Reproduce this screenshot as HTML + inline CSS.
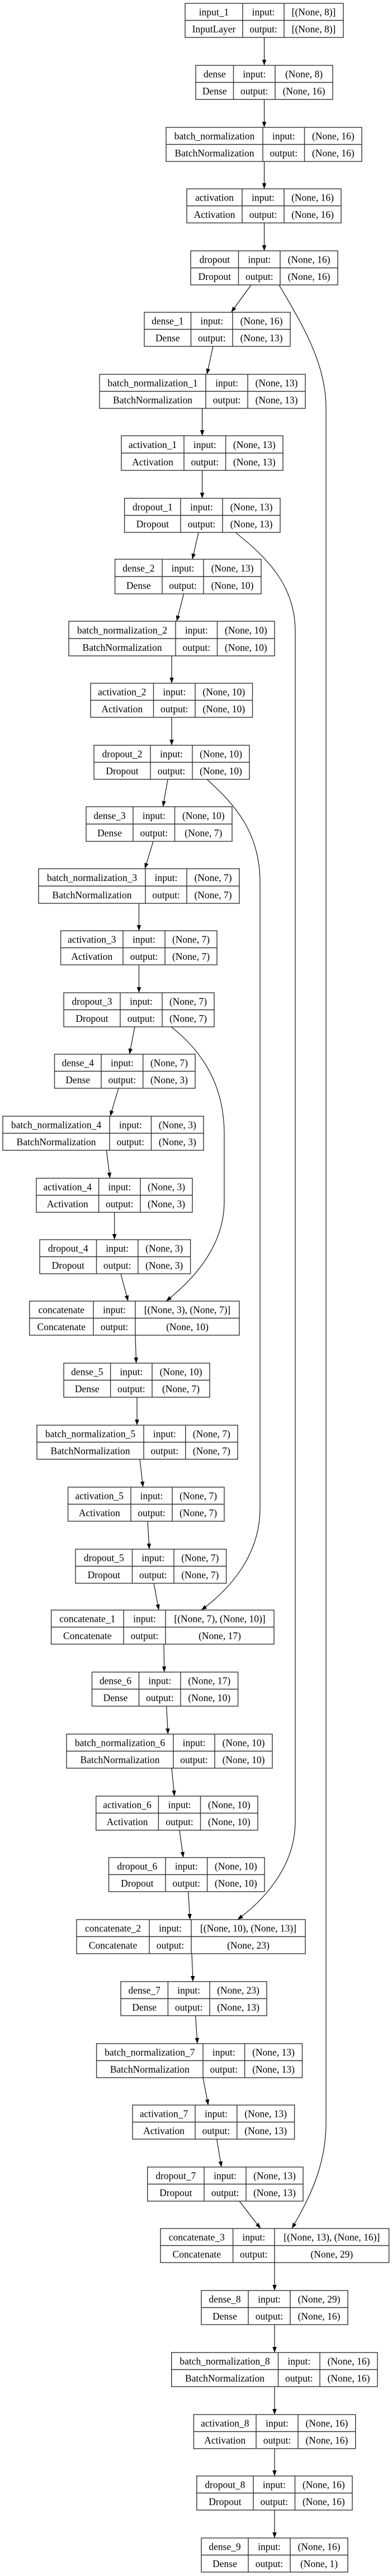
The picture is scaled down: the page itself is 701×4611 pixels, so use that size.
<!DOCTYPE html>
<html><head><meta charset="utf-8"><style>
html,body{margin:0;padding:0;background:#fff;}
svg{display:block;}
.b rect{fill:#fff;stroke:#333;stroke-width:1.4;}
.b line{stroke:#333;stroke-width:1.4;}
text{font-family:"Liberation Serif",serif;font-size:17.5px;fill:#000;text-anchor:middle;}
.e{stroke:#000;stroke-width:1.1;fill:none;}
</style></head><body>
<svg width="701" height="4611" viewBox="0 0 701 4611" xmlns="http://www.w3.org/2000/svg">
<defs><marker id="a" markerUnits="userSpaceOnUse" markerWidth="11" markerHeight="8" refX="10" refY="3.75" orient="auto"><path d="M0,0 L10,3.75 L0,7.5 z" fill="#000"/></marker></defs>

<!-- skip connections -->
<path class="e" marker-end="url(#a)" d="M499,510 C540,580 583,650 583,730 L583,3800 C583,3880 550,3940 522,3989"/>
<path class="e" marker-end="url(#a)" d="M421,953 C480,1000 528,1050 528,1130 L528,3260 C528,3335 480,3395 424.7,3436"/>
<path class="e" marker-end="url(#a)" d="M370,1395 C420,1440 465,1490 465,1580 L465,2700 C465,2785 410,2845 360,2882"/>
<path class="e" marker-end="url(#a)" d="M306,1838 C360,1880 401,1940 401,2030 L401,2150 C401,2235 340,2295 297,2329"/>

<!-- main edges -->
<g class="e" marker-end="url(#a)">
<line class="e" marker-end="url(#a)" x1="472.5" y1="67" x2="472.5" y2="117"/>
<line class="e" marker-end="url(#a)" x1="472.5" y1="178" x2="472.5" y2="228"/>
<line class="e" marker-end="url(#a)" x1="472.5" y1="289" x2="472.5" y2="338"/>
<line class="e" marker-end="url(#a)" x1="472.5" y1="399" x2="472.5" y2="449"/>
<line class="e" marker-end="url(#a)" x1="449" y1="510" x2="413.5" y2="559"/>
<line class="e" marker-end="url(#a)" x1="381" y1="620" x2="370" y2="670"/>
<line class="e" marker-end="url(#a)" x1="361.6" y1="731" x2="361.6" y2="780"/>
<line class="e" marker-end="url(#a)" x1="361.6" y1="842" x2="361.6" y2="892"/>
<line class="e" marker-end="url(#a)" x1="355" y1="953" x2="344" y2="1001"/>
<line class="e" marker-end="url(#a)" x1="328.6" y1="1063" x2="316" y2="1112"/>
<line class="e" marker-end="url(#a)" x1="307" y1="1174" x2="307" y2="1223"/>
<line class="e" marker-end="url(#a)" x1="307" y1="1284" x2="307" y2="1334"/>
<line class="e" marker-end="url(#a)" x1="300" y1="1395" x2="291.5" y2="1444"/>
<line class="e" marker-end="url(#a)" x1="274" y1="1506" x2="259" y2="1555"/>
<line class="e" marker-end="url(#a)" x1="248.5" y1="1617" x2="248.5" y2="1666"/>
<line class="e" marker-end="url(#a)" x1="248.5" y1="1727" x2="248.5" y2="1777"/>
<line class="e" marker-end="url(#a)" x1="241" y1="1838" x2="231.5" y2="1887"/>
<line class="e" marker-end="url(#a)" x1="212" y1="1948" x2="197" y2="1998"/>
<line class="e" marker-end="url(#a)" x1="190.4" y1="2059" x2="196.7" y2="2109"/>
<line class="e" marker-end="url(#a)" x1="204.7" y1="2170" x2="204.7" y2="2219"/>
<line class="e" marker-end="url(#a)" x1="216" y1="2280" x2="229" y2="2329"/>
<line class="e" marker-end="url(#a)" x1="242" y1="2390" x2="243.6" y2="2440"/>
<line class="e" marker-end="url(#a)" x1="245" y1="2501" x2="245" y2="2551"/>
<line class="e" marker-end="url(#a)" x1="250" y1="2612" x2="255.7" y2="2662"/>
<line class="e" marker-end="url(#a)" x1="264" y1="2723" x2="267" y2="2773"/>
<line class="e" marker-end="url(#a)" x1="275" y1="2834" x2="284" y2="2882"/>
<line class="e" marker-end="url(#a)" x1="293" y1="2943" x2="293.7" y2="2993"/>
<line class="e" marker-end="url(#a)" x1="297.7" y1="3054" x2="300.4" y2="3104"/>
<line class="e" marker-end="url(#a)" x1="307" y1="3165" x2="312" y2="3215"/>
<line class="e" marker-end="url(#a)" x1="321" y1="3276" x2="327.7" y2="3325"/>
<line class="e" marker-end="url(#a)" x1="336.6" y1="3386" x2="339.7" y2="3436"/>
<line class="e" marker-end="url(#a)" x1="343" y1="3497" x2="345" y2="3547"/>
<line class="e" marker-end="url(#a)" x1="349.6" y1="3608" x2="353" y2="3658"/>
<line class="e" marker-end="url(#a)" x1="363" y1="3719" x2="372.4" y2="3768"/>
<line class="e" marker-end="url(#a)" x1="387.6" y1="3829" x2="396" y2="3879"/>
<line class="e" marker-end="url(#a)" x1="428" y1="3940" x2="466" y2="3989"/>
<line class="e" marker-end="url(#a)" x1="491" y1="4050" x2="491" y2="4100"/>
<line class="e" marker-end="url(#a)" x1="491" y1="4161" x2="491" y2="4211"/>
<line class="e" marker-end="url(#a)" x1="491" y1="4272" x2="491" y2="4322"/>
<line class="e" marker-end="url(#a)" x1="491" y1="4383" x2="491" y2="4432"/>
<line class="e" marker-end="url(#a)" x1="491" y1="4493" x2="491" y2="4543"/>
</g>

<!-- nodes -->
<g class="b"><rect x="331" y="6" width="283" height="61"/><line x1="331" y1="36.5" x2="614" y2="36.5"/><line x1="434" y1="6" x2="434" y2="67"/><line x1="508" y1="6" x2="508" y2="67"/>
<text x="382.5" y="27.5">input_1</text><text x="471" y="27.5">input:</text><text x="561" y="27.5">[(None, 8)]</text>
<text x="382.5" y="58">InputLayer</text><text x="471" y="58">output:</text><text x="561" y="58">[(None, 8)]</text></g>

<g class="b"><rect x="350" y="117" width="245" height="61"/><line x1="350" y1="147.5" x2="595" y2="147.5"/><line x1="417.5" y1="117" x2="417.5" y2="178"/><line x1="492" y1="117" x2="492" y2="178"/>
<text x="383.8" y="138.5">dense</text><text x="454.8" y="138.5">input:</text><text x="543.5" y="138.5">(None, 8)</text>
<text x="383.8" y="169">Dense</text><text x="454.8" y="169">output:</text><text x="543.5" y="169">(None, 16)</text></g>

<g class="b"><rect x="297" y="228" width="350" height="61"/><line x1="297" y1="258.5" x2="647" y2="258.5"/><line x1="470" y1="228" x2="470" y2="289"/><line x1="544.5" y1="228" x2="544.5" y2="289"/>
<text x="383.5" y="249.5">batch_normalization</text><text x="507.3" y="249.5">input:</text><text x="595.8" y="249.5">(None, 16)</text>
<text x="383.5" y="280">BatchNormalization</text><text x="507.3" y="280">output:</text><text x="595.8" y="280">(None, 16)</text></g>

<g class="b"><rect x="334" y="338" width="276" height="61"/><line x1="334" y1="368.5" x2="610" y2="368.5"/><line x1="433" y1="338" x2="433" y2="399"/><line x1="508" y1="338" x2="508" y2="399"/>
<text x="383.5" y="359.5">activation</text><text x="470.5" y="359.5">input:</text><text x="559" y="359.5">(None, 16)</text>
<text x="383.5" y="390">Activation</text><text x="470.5" y="390">output:</text><text x="559" y="390">(None, 16)</text></g>

<g class="b"><rect x="341" y="449" width="263" height="61"/><line x1="341" y1="479.5" x2="604" y2="479.5"/><line x1="426.5" y1="449" x2="426.5" y2="510"/><line x1="501" y1="449" x2="501" y2="510"/>
<text x="383.8" y="470.5">dropout</text><text x="463.8" y="470.5">input:</text><text x="552.5" y="470.5">(None, 16)</text>
<text x="383.8" y="501">Dropout</text><text x="463.8" y="501">output:</text><text x="552.5" y="501">(None, 16)</text></g>

<g class="b"><rect x="258" y="559" width="261" height="61"/><line x1="258" y1="589.5" x2="519" y2="589.5"/><line x1="341.5" y1="559" x2="341.5" y2="620"/><line x1="416" y1="559" x2="416" y2="620"/>
<text x="299.8" y="580.5">dense_1</text><text x="378.8" y="580.5">input:</text><text x="467.5" y="580.5">(None, 16)</text>
<text x="299.8" y="611">Dense</text><text x="378.8" y="611">output:</text><text x="467.5" y="611">(None, 13)</text></g>

<g class="b"><rect x="178" y="670" width="368" height="61"/><line x1="178" y1="700.5" x2="546" y2="700.5"/><line x1="368" y1="670" x2="368" y2="731"/><line x1="443" y1="670" x2="443" y2="731"/>
<text x="273" y="691.5">batch_normalization_1</text><text x="405.5" y="691.5">input:</text><text x="494.5" y="691.5">(None, 13)</text>
<text x="273" y="722">BatchNormalization</text><text x="405.5" y="722">output:</text><text x="494.5" y="722">(None, 13)</text></g>

<g class="b"><rect x="217" y="780" width="289" height="62"/><line x1="217" y1="811" x2="506" y2="811"/><line x1="329" y1="780" x2="329" y2="842"/><line x1="403.6" y1="780" x2="403.6" y2="842"/>
<text x="273" y="802">activation_1</text><text x="366.3" y="802">input:</text><text x="454.8" y="802">(None, 13)</text>
<text x="273" y="833">Activation</text><text x="366.3" y="833">output:</text><text x="454.8" y="833">(None, 13)</text></g>

<g class="b"><rect x="222.6" y="892" width="278.4" height="61"/><line x1="222.6" y1="922.5" x2="501" y2="922.5"/><line x1="323" y1="892" x2="323" y2="953"/><line x1="398" y1="892" x2="398" y2="953"/>
<text x="272.8" y="913.5">dropout_1</text><text x="360.5" y="913.5">input:</text><text x="449.5" y="913.5">(None, 13)</text>
<text x="272.8" y="944">Dropout</text><text x="360.5" y="944">output:</text><text x="449.5" y="944">(None, 13)</text></g>

<g class="b"><rect x="205.6" y="1001" width="261.4" height="62"/><line x1="205.6" y1="1032" x2="467" y2="1032"/><line x1="290" y1="1001" x2="290" y2="1063"/><line x1="364" y1="1001" x2="364" y2="1063"/>
<text x="247.8" y="1023">dense_2</text><text x="327" y="1023">input:</text><text x="415.5" y="1023">(None, 13)</text>
<text x="247.8" y="1054">Dense</text><text x="327" y="1054">output:</text><text x="415.5" y="1054">(None, 10)</text></g>

<g class="b"><rect x="123" y="1112" width="368" height="62"/><line x1="123" y1="1143" x2="491" y2="1143"/><line x1="314" y1="1112" x2="314" y2="1174"/><line x1="388.5" y1="1112" x2="388.5" y2="1174"/>
<text x="218.5" y="1134">batch_normalization_2</text><text x="351.3" y="1134">input:</text><text x="439.8" y="1134">(None, 10)</text>
<text x="218.5" y="1165">BatchNormalization</text><text x="351.3" y="1165">output:</text><text x="439.8" y="1165">(None, 10)</text></g>

<g class="b"><rect x="162" y="1223" width="289.5" height="61"/><line x1="162" y1="1253.5" x2="451.5" y2="1253.5"/><line x1="274.5" y1="1223" x2="274.5" y2="1284"/><line x1="349" y1="1223" x2="349" y2="1284"/>
<text x="218.3" y="1244.5">activation_2</text><text x="311.8" y="1244.5">input:</text><text x="400.3" y="1244.5">(None, 10)</text>
<text x="218.3" y="1275">Activation</text><text x="311.8" y="1275">output:</text><text x="400.3" y="1275">(None, 10)</text></g>

<g class="b"><rect x="168" y="1334" width="278" height="61"/><line x1="168" y1="1364.5" x2="446" y2="1364.5"/><line x1="269" y1="1334" x2="269" y2="1395"/><line x1="344" y1="1334" x2="344" y2="1395"/>
<text x="218.5" y="1355.5">dropout_2</text><text x="306.5" y="1355.5">input:</text><text x="395" y="1355.5">(None, 10)</text>
<text x="218.5" y="1386">Dropout</text><text x="306.5" y="1386">output:</text><text x="395" y="1386">(None, 10)</text></g>

<g class="b"><rect x="154" y="1444" width="261" height="62"/><line x1="154" y1="1475" x2="415" y2="1475"/><line x1="238" y1="1444" x2="238" y2="1506"/><line x1="312.5" y1="1444" x2="312.5" y2="1506"/>
<text x="196" y="1466">dense_3</text><text x="275.3" y="1466">input:</text><text x="363.8" y="1466">(None, 10)</text>
<text x="196" y="1497">Dense</text><text x="275.3" y="1497">output:</text><text x="363.8" y="1497">(None, 7)</text></g>

<g class="b"><rect x="69" y="1555" width="359" height="62"/><line x1="69" y1="1586" x2="428" y2="1586"/><line x1="260" y1="1555" x2="260" y2="1617"/><line x1="334" y1="1555" x2="334" y2="1617"/>
<text x="164.5" y="1577">batch_normalization_3</text><text x="297" y="1577">input:</text><text x="381" y="1577">(None, 7)</text>
<text x="164.5" y="1608">BatchNormalization</text><text x="297" y="1608">output:</text><text x="381" y="1608">(None, 7)</text></g>

<g class="b"><rect x="108.6" y="1666" width="279.4" height="61"/><line x1="108.6" y1="1696.5" x2="388" y2="1696.5"/><line x1="220" y1="1666" x2="220" y2="1727"/><line x1="295" y1="1666" x2="295" y2="1727"/>
<text x="164.3" y="1687.5">activation_3</text><text x="257.5" y="1687.5">input:</text><text x="341.5" y="1687.5">(None, 7)</text>
<text x="164.3" y="1718">Activation</text><text x="257.5" y="1718">output:</text><text x="341.5" y="1718">(None, 7)</text></g>

<g class="b"><rect x="114" y="1777" width="269" height="61"/><line x1="114" y1="1807.5" x2="383" y2="1807.5"/><line x1="215" y1="1777" x2="215" y2="1838"/><line x1="290" y1="1777" x2="290" y2="1838"/>
<text x="164.5" y="1798.5">dropout_3</text><text x="252.5" y="1798.5">input:</text><text x="336.5" y="1798.5">(None, 7)</text>
<text x="164.5" y="1829">Dropout</text><text x="252.5" y="1829">output:</text><text x="336.5" y="1829">(None, 7)</text></g>

<g class="b"><rect x="97.5" y="1887" width="251.5" height="61"/><line x1="97.5" y1="1917.5" x2="349" y2="1917.5"/><line x1="181" y1="1887" x2="181" y2="1948"/><line x1="255.7" y1="1887" x2="255.7" y2="1948"/>
<text x="139.3" y="1908.5">dense_4</text><text x="218.4" y="1908.5">input:</text><text x="302.4" y="1908.5">(None, 7)</text>
<text x="139.3" y="1939">Dense</text><text x="218.4" y="1939">output:</text><text x="302.4" y="1939">(None, 3)</text></g>

<g class="b"><rect x="5" y="1998" width="359" height="61"/><line x1="5" y1="2028.5" x2="364" y2="2028.5"/><line x1="196" y1="1998" x2="196" y2="2059"/><line x1="270.5" y1="1998" x2="270.5" y2="2059"/>
<text x="100.5" y="2019.5">batch_normalization_4</text><text x="233.3" y="2019.5">input:</text><text x="317.3" y="2019.5">(None, 3)</text>
<text x="100.5" y="2050">BatchNormalization</text><text x="233.3" y="2050">output:</text><text x="317.3" y="2050">(None, 3)</text></g>

<g class="b"><rect x="65" y="2109" width="279" height="61"/><line x1="65" y1="2139.5" x2="344" y2="2139.5"/><line x1="176.6" y1="2109" x2="176.6" y2="2170"/><line x1="251" y1="2109" x2="251" y2="2170"/>
<text x="120.8" y="2130.5">activation_4</text><text x="213.8" y="2130.5">input:</text><text x="297.5" y="2130.5">(None, 3)</text>
<text x="120.8" y="2161">Activation</text><text x="213.8" y="2161">output:</text><text x="297.5" y="2161">(None, 3)</text></g>

<g class="b"><rect x="71" y="2219" width="269.6" height="61"/><line x1="71" y1="2249.5" x2="340.6" y2="2249.5"/><line x1="172.5" y1="2219" x2="172.5" y2="2280"/><line x1="246.8" y1="2219" x2="246.8" y2="2280"/>
<text x="121.8" y="2240.5">dropout_4</text><text x="209.7" y="2240.5">input:</text><text x="293.7" y="2240.5">(None, 3)</text>
<text x="121.8" y="2271">Dropout</text><text x="209.7" y="2271">output:</text><text x="293.7" y="2271">(None, 3)</text></g>

<g class="b"><rect x="52.7" y="2329" width="375.3" height="61"/><line x1="52.7" y1="2359.5" x2="428" y2="2359.5"/><line x1="167" y1="2329" x2="167" y2="2390"/><line x1="242" y1="2329" x2="242" y2="2390"/>
<text x="109.8" y="2350.5">concatenate</text><text x="204.5" y="2350.5">input:</text><text x="335" y="2350.5">[(None, 3), (None, 7)]</text>
<text x="109.8" y="2381">Concatenate</text><text x="204.5" y="2381">output:</text><text x="335" y="2381">(None, 10)</text></g>

<g class="b"><rect x="114" y="2440" width="261" height="61"/><line x1="114" y1="2470.5" x2="375" y2="2470.5"/><line x1="197.6" y1="2440" x2="197.6" y2="2501"/><line x1="272" y1="2440" x2="272" y2="2501"/>
<text x="155.8" y="2461.5">dense_5</text><text x="234.8" y="2461.5">input:</text><text x="323.5" y="2461.5">(None, 10)</text>
<text x="155.8" y="2492">Dense</text><text x="234.8" y="2492">output:</text><text x="323.5" y="2492">(None, 7)</text></g>

<g class="b"><rect x="66" y="2551" width="359" height="61"/><line x1="66" y1="2581.5" x2="425" y2="2581.5"/><line x1="257" y1="2551" x2="257" y2="2612"/><line x1="331.7" y1="2551" x2="331.7" y2="2612"/>
<text x="161.5" y="2572.5">batch_normalization_5</text><text x="294.3" y="2572.5">input:</text><text x="378.3" y="2572.5">(None, 7)</text>
<text x="161.5" y="2603">BatchNormalization</text><text x="294.3" y="2603">output:</text><text x="378.3" y="2603">(None, 7)</text></g>

<g class="b"><rect x="121.6" y="2662" width="279.4" height="61"/><line x1="121.6" y1="2692.5" x2="401" y2="2692.5"/><line x1="234" y1="2662" x2="234" y2="2723"/><line x1="308" y1="2662" x2="308" y2="2723"/>
<text x="177.8" y="2683.5">activation_5</text><text x="271" y="2683.5">input:</text><text x="354.5" y="2683.5">(None, 7)</text>
<text x="177.8" y="2714">Activation</text><text x="271" y="2714">output:</text><text x="354.5" y="2714">(None, 7)</text></g>

<g class="b"><rect x="135" y="2773" width="269.6" height="61"/><line x1="135" y1="2803.5" x2="404.6" y2="2803.5"/><line x1="236.5" y1="2773" x2="236.5" y2="2834"/><line x1="311" y1="2773" x2="311" y2="2834"/>
<text x="185.8" y="2794.5">dropout_5</text><text x="273.8" y="2794.5">input:</text><text x="357.8" y="2794.5">(None, 7)</text>
<text x="185.8" y="2825">Dropout</text><text x="273.8" y="2825">output:</text><text x="357.8" y="2825">(None, 7)</text></g>

<g class="b"><rect x="91.6" y="2882" width="398.4" height="61"/><line x1="91.6" y1="2912.5" x2="490" y2="2912.5"/><line x1="221" y1="2882" x2="221" y2="2943"/><line x1="296" y1="2882" x2="296" y2="2943"/>
<text x="156.3" y="2903.5">concatenate_1</text><text x="258.5" y="2903.5">input:</text><text x="393" y="2903.5">[(None, 7), (None, 10)]</text>
<text x="156.3" y="2934">Concatenate</text><text x="258.5" y="2934">output:</text><text x="393" y="2934">(None, 17)</text></g>

<g class="b"><rect x="164.5" y="2993" width="261.1" height="61"/><line x1="164.5" y1="3023.5" x2="425.6" y2="3023.5"/><line x1="248.5" y1="2993" x2="248.5" y2="3054"/><line x1="323" y1="2993" x2="323" y2="3054"/>
<text x="206.5" y="3014.5">dense_6</text><text x="285.8" y="3014.5">input:</text><text x="374.3" y="3014.5">(None, 17)</text>
<text x="206.5" y="3045">Dense</text><text x="285.8" y="3045">output:</text><text x="374.3" y="3045">(None, 10)</text></g>

<g class="b"><rect x="119" y="3104" width="368" height="61"/><line x1="119" y1="3134.5" x2="487" y2="3134.5"/><line x1="310" y1="3104" x2="310" y2="3165"/><line x1="384" y1="3104" x2="384" y2="3165"/>
<text x="214.5" y="3125.5">batch_normalization_6</text><text x="347" y="3125.5">input:</text><text x="435.5" y="3125.5">(None, 10)</text>
<text x="214.5" y="3156">BatchNormalization</text><text x="347" y="3156">output:</text><text x="435.5" y="3156">(None, 10)</text></g>

<g class="b"><rect x="171.7" y="3215" width="289.3" height="61"/><line x1="171.7" y1="3245.5" x2="461" y2="3245.5"/><line x1="283.4" y1="3215" x2="283.4" y2="3276"/><line x1="358.5" y1="3215" x2="358.5" y2="3276"/>
<text x="227.5" y="3236.5">activation_6</text><text x="321" y="3236.5">input:</text><text x="409.8" y="3236.5">(None, 10)</text>
<text x="227.5" y="3267">Activation</text><text x="321" y="3267">output:</text><text x="409.8" y="3267">(None, 10)</text></g>

<g class="b"><rect x="194.5" y="3325" width="278.5" height="61"/><line x1="194.5" y1="3355.5" x2="473" y2="3355.5"/><line x1="296" y1="3325" x2="296" y2="3386"/><line x1="370.6" y1="3325" x2="370.6" y2="3386"/>
<text x="245.3" y="3346.5">dropout_6</text><text x="333.3" y="3346.5">input:</text><text x="421.8" y="3346.5">(None, 10)</text>
<text x="245.3" y="3377">Dropout</text><text x="333.3" y="3377">output:</text><text x="421.8" y="3377">(None, 10)</text></g>

<g class="b"><rect x="137" y="3436" width="409" height="61"/><line x1="137" y1="3466.5" x2="546" y2="3466.5"/><line x1="267" y1="3436" x2="267" y2="3497"/><line x1="342" y1="3436" x2="342" y2="3497"/>
<text x="202" y="3457.5">concatenate_2</text><text x="304.5" y="3457.5">input:</text><text x="444" y="3457.5">[(None, 10), (None, 13)]</text>
<text x="202" y="3488">Concatenate</text><text x="304.5" y="3488">output:</text><text x="444" y="3488">(None, 23)</text></g>

<g class="b"><rect x="216" y="3547" width="261" height="61"/><line x1="216" y1="3577.5" x2="477" y2="3577.5"/><line x1="300.4" y1="3547" x2="300.4" y2="3608"/><line x1="375" y1="3547" x2="375" y2="3608"/>
<text x="258.2" y="3568.5">dense_7</text><text x="337.7" y="3568.5">input:</text><text x="426" y="3568.5">(None, 23)</text>
<text x="258.2" y="3599">Dense</text><text x="337.7" y="3599">output:</text><text x="426" y="3599">(None, 13)</text></g>

<g class="b"><rect x="172.6" y="3658" width="367.9" height="61"/><line x1="172.6" y1="3688.5" x2="540.5" y2="3688.5"/><line x1="363" y1="3658" x2="363" y2="3719"/><line x1="437.6" y1="3658" x2="437.6" y2="3719"/>
<text x="267.8" y="3679.5">batch_normalization_7</text><text x="400.3" y="3679.5">input:</text><text x="489" y="3679.5">(None, 13)</text>
<text x="267.8" y="3710">BatchNormalization</text><text x="400.3" y="3710">output:</text><text x="489" y="3710">(None, 13)</text></g>

<g class="b"><rect x="237" y="3768" width="289.6" height="61"/><line x1="237" y1="3798.5" x2="526.6" y2="3798.5"/><line x1="349" y1="3768" x2="349" y2="3829"/><line x1="423.8" y1="3768" x2="423.8" y2="3829"/>
<text x="293" y="3789.5">activation_7</text><text x="386.4" y="3789.5">input:</text><text x="475.2" y="3789.5">(None, 13)</text>
<text x="293" y="3820">Activation</text><text x="386.4" y="3820">output:</text><text x="475.2" y="3820">(None, 13)</text></g>

<g class="b"><rect x="263.7" y="3879" width="278.3" height="61"/><line x1="263.7" y1="3909.5" x2="542" y2="3909.5"/><line x1="365" y1="3879" x2="365" y2="3940"/><line x1="440" y1="3879" x2="440" y2="3940"/>
<text x="314.3" y="3900.5">dropout_7</text><text x="402.5" y="3900.5">input:</text><text x="491" y="3900.5">(None, 13)</text>
<text x="314.3" y="3931">Dropout</text><text x="402.5" y="3931">output:</text><text x="491" y="3931">(None, 13)</text></g>

<g class="b"><rect x="287" y="3989" width="408.6" height="61"/><line x1="287" y1="4019.5" x2="695.6" y2="4019.5"/><line x1="416.6" y1="3989" x2="416.6" y2="4050"/><line x1="491" y1="3989" x2="491" y2="4050"/>
<text x="351.8" y="4010.5">concatenate_3</text><text x="453.8" y="4010.5">input:</text><text x="593.3" y="4010.5">[(None, 13), (None, 16)]</text>
<text x="351.8" y="4041">Concatenate</text><text x="453.8" y="4041">output:</text><text x="593.3" y="4041">(None, 29)</text></g>

<g class="b"><rect x="360" y="4100" width="262" height="61"/><line x1="360" y1="4130.5" x2="622" y2="4130.5"/><line x1="444" y1="4100" x2="444" y2="4161"/><line x1="519" y1="4100" x2="519" y2="4161"/>
<text x="402" y="4121.5">dense_8</text><text x="481.5" y="4121.5">input:</text><text x="570.5" y="4121.5">(None, 29)</text>
<text x="402" y="4152">Dense</text><text x="481.5" y="4152">output:</text><text x="570.5" y="4152">(None, 16)</text></g>

<g class="b"><rect x="306.7" y="4211" width="368.3" height="61"/><line x1="306.7" y1="4241.5" x2="675" y2="4241.5"/><line x1="497.5" y1="4211" x2="497.5" y2="4272"/><line x1="572" y1="4211" x2="572" y2="4272"/>
<text x="402" y="4232.5">batch_normalization_8</text><text x="534.8" y="4232.5">input:</text><text x="623.5" y="4232.5">(None, 16)</text>
<text x="402" y="4263">BatchNormalization</text><text x="534.8" y="4263">output:</text><text x="623.5" y="4263">(None, 16)</text></g>

<g class="b"><rect x="346.4" y="4322" width="289.3" height="61"/><line x1="346.4" y1="4352.5" x2="635.7" y2="4352.5"/><line x1="458" y1="4322" x2="458" y2="4383"/><line x1="533" y1="4322" x2="533" y2="4383"/>
<text x="402.2" y="4343.5">activation_8</text><text x="495.5" y="4343.5">input:</text><text x="584.4" y="4343.5">(None, 16)</text>
<text x="402.2" y="4374">Activation</text><text x="495.5" y="4374">output:</text><text x="584.4" y="4374">(None, 16)</text></g>

<g class="b"><rect x="351.8" y="4432" width="278.2" height="61"/><line x1="351.8" y1="4462.5" x2="630" y2="4462.5"/><line x1="453" y1="4432" x2="453" y2="4493"/><line x1="527.5" y1="4432" x2="527.5" y2="4493"/>
<text x="402.4" y="4453.5">dropout_8</text><text x="490.3" y="4453.5">input:</text><text x="578.8" y="4453.5">(None, 16)</text>
<text x="402.4" y="4484">Dropout</text><text x="490.3" y="4484">output:</text><text x="578.8" y="4484">(None, 16)</text></g>

<g class="b"><rect x="360" y="4543" width="262" height="61"/><line x1="360" y1="4573.5" x2="622" y2="4573.5"/><line x1="444" y1="4543" x2="444" y2="4604"/><line x1="519" y1="4543" x2="519" y2="4604"/>
<text x="402" y="4564.5">dense_9</text><text x="481.5" y="4564.5">input:</text><text x="570.5" y="4564.5">(None, 16)</text>
<text x="402" y="4595">Dense</text><text x="481.5" y="4595">output:</text><text x="570.5" y="4595">(None, 1)</text></g>
</svg>
</body></html>
